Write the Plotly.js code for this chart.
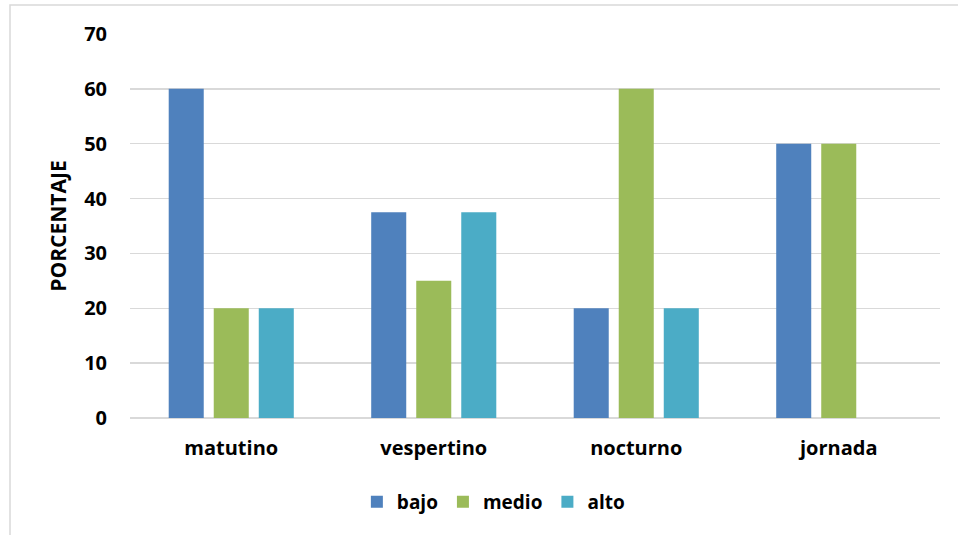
<!DOCTYPE html>
<html>
<head>
<meta charset="utf-8">
<script src="https://cdn.plot.ly/plotly-3.0.1.min.js"></script>
<style>html,body{margin:0;padding:0;background:#fff;}#chart{width:958px;height:535px;}</style>
</head>
<body>
<div id="chart"></div>
<script>
const categories = ["matutino", "vespertino", "nocturno", "jornada"];
const seriesNames = ["bajo", "medio", "alto"];
const bajo = [60, 37.5, 20, 50];
const medio = [20, 25, 60, 50];
const alto = [20, 37.5, 20, 0];
const yTicks = [0, 10, 20, 30, 40, 50, 60, 70];
const colors = ["#4F81BD", "#9BBB59", "#4BACC6"];

const fam = "'Open Sans', sans-serif";
const font = {family: fam, size: 20, color: "#000", weight: "bold"};
const values = [bajo, medio, alto];
const data = seriesNames.map((n, i) => ({
  type: "bar", name: n, x: categories, y: values[i],
  marker: {color: colors[i]}
}));

const layout = {
  width: 958, height: 535,
  margin: {l: 130, r: 18, t: 34, b: 117},
  paper_bgcolor: "#fff", plot_bgcolor: "#fff",
  barmode: "group", bargap: 0.333, bargroupgap: 0.222,
  font: font,
  showlegend: true,
  legend: {orientation: "h", xref: "container", yref: "container", x: 0.515, y: 0.062,
    xanchor: "center", yanchor: "middle", font: {family: fam, size: 19, color: "#000", weight: "bold"},
    itemwidth: 30, traceorder: "normal"},
  xaxis: {type: "category", showgrid: false, showline: false, zeroline: false,
    ticks: "", tickfont: font, ticklabelstandoff: 16, fixedrange: true},
  yaxis: {range: [0, 70], tickvals: yTicks, ticktext: yTicks.map(String),
    showgrid: true, gridcolor: "#d9d9d9", gridwidth: 1.5, zeroline: true, zerolinecolor: "#d9d9d9", zerolinewidth: 2,
    showline: false, ticks: "", tickfont: font, ticklabelstandoff: 22,
    title: {text: "PORCENTAJE", font: {family: fam, size: 21, color: "#000", weight: "bold"}, standoff: 11}, automargin: false},
  shapes: [{type: "rect", xref: "paper", yref: "paper", x0: 0, x1: 1, y0: 0, y1: 1,
    line: {color: "#d9d9d9", width: 1.5}, fillcolor: "rgba(0,0,0,0)", layer: "below"}]
};
// border rect in pixel positions: left at x=10, top at y=5
const plotW = 958 - 130 - 18, plotH = 535 - 34 - 117;
layout.shapes[0].x0 = (10 - 130) / plotW;
layout.shapes[0].x1 = (970 - 130) / plotW;
layout.shapes[0].y1 = (418 - 5) / plotH;
layout.shapes[0].y0 = (418 - 560) / plotH;
Plotly.newPlot("chart", data, layout, {displayModeBar: false, staticPlot: true});
</script>
</body>
</html>
